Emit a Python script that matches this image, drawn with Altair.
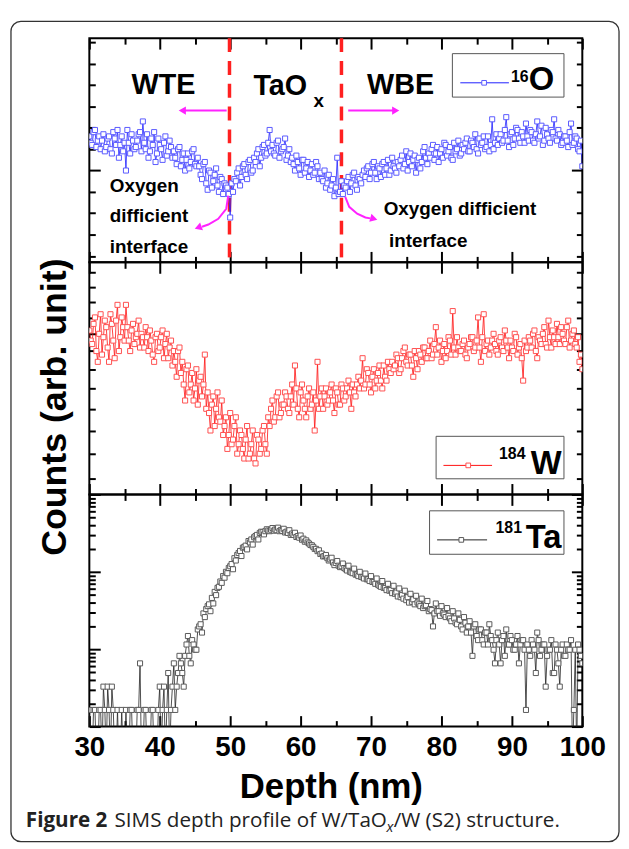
import altair as alt
import pandas as pd

# ---------------- data ----------------
# two interleaved passes of readings: at 30.0, 30.4, ... and at 30.2, 30.6, ...
STEP = 0.4
START_A, START_B = 30.0, 30.2

o16_a = [5.6, 5.2, 5.9, 5.4, 5.0, 5.7,
         5.1, 5.6, 4.8, 5.5, 5.9, 5.2, 4.9, 4.0, 5.3, 5.7, 5.0, 5.4, 5.8,
         6.3, 5.0, 4.6, 5.5, 5.8, 4.8, 5.2, 4.5, 5.6, 4.9, 5.1,
         4.9, 4.3, 5.1, 4.5, 4.0, 4.8, 4.4, 5.0, 4.2,
         4.2, 3.6, 4.4, 3.1, 3.9, 3.5, 4.1, 3.0, 3.6, 3.4,
         3.2, 1.8, 3.0,
         3.5, 4.1, 3.7, 4.3, 3.6, 4.5, 4.0,
         4.4, 5.0, 4.6, 5.2, 4.8, 5.9,
         5.2, 4.7, 5.4, 4.9, 5.1, 4.5, 5.0,
         4.6, 4.0, 4.4, 3.8, 4.5, 4.1, 3.7, 4.3, 3.9, 4.2,
         3.9, 3.5, 3.2, 3.8, 3.3, 2.8, 4.6, 3.0, 2.9,
         3.2, 3.7, 3.4, 3.9, 3.1, 3.6, 3.8,
         3.7, 4.2, 3.9, 4.4, 3.6, 4.1, 4.3, 3.8, 4.5, 4.0, 4.2, 3.9,
         4.2, 4.7, 4.3, 4.0, 4.8, 4.5, 3.9, 4.6, 4.4, 5.1, 4.3,
         4.6, 5.2, 4.8, 4.4, 5.0, 5.3, 4.7, 5.1, 4.5, 4.9, 5.4, 4.8,
         5.0, 5.5, 4.9, 5.3, 5.7, 4.8, 5.2, 5.6, 5.1, 4.9, 6.4, 5.3,
         5.2, 5.7, 5.4, 6.5, 5.1, 5.8, 5.5, 5.9, 5.3, 5.6, 6.2, 5.4,
         5.8, 5.3, 6.3, 5.6, 5.2, 6.0, 5.5, 5.9, 6.4, 5.4, 5.7, 5.3,
         5.6, 5.1, 6.2, 5.3, 5.5, 4.9, 4.2]
o16_b = [5.3, 5.8, 5.1, 5.6, 5.4, 4.9,
         5.5, 5.0, 5.8, 5.2, 4.6, 5.6, 5.3, 5.9, 4.8, 5.4, 5.1, 5.7, 4.9,
         5.3, 5.7, 4.9, 5.2, 4.4, 5.5, 5.0, 5.3, 4.7, 5.4, 4.6,
         4.6, 5.0, 4.2, 4.8, 4.5, 4.1, 4.9, 4.3, 4.6,
         3.8, 4.3, 3.4, 4.0, 3.2, 3.8, 3.3, 3.7, 2.9, 3.3,
         2.9, 3.4, 3.6,
         3.9, 3.3, 4.2, 3.8, 4.4, 3.9, 4.6,
         4.8, 4.2, 5.1, 4.7, 5.3, 4.9,
         4.8, 5.3, 4.6, 5.0, 5.5, 4.7, 4.4,
         4.3, 4.7, 4.1, 4.5, 3.9, 4.4, 4.0, 3.8, 4.4, 3.6,
         3.6, 4.0, 3.4, 3.1, 3.6, 3.2, 2.9, 3.5, 3.3,
         3.5, 3.0, 3.8, 3.3, 3.7, 3.4, 4.0,
         4.1, 3.6, 4.3, 3.9, 4.2, 3.7, 4.4, 4.1, 3.8, 4.6, 4.1, 4.4,
         4.5, 4.1, 4.9, 4.4, 4.2, 4.7, 4.5, 4.1, 4.9, 4.6, 4.8,
         5.0, 4.5, 5.1, 4.8, 4.6, 5.2, 4.9, 4.6, 5.3, 5.0, 4.7, 5.2,
         5.3, 4.9, 5.4, 5.1, 5.0, 5.5, 5.3, 5.0, 5.6, 5.2, 5.0, 5.7,
         5.5, 5.3, 5.9, 5.4, 5.7, 5.2, 6.0, 5.5, 5.8, 5.3, 5.6, 5.9,
         5.4, 5.7, 5.5, 6.1, 5.4, 5.7, 5.3, 5.8, 5.5, 5.9, 5.2, 5.6,
         5.4, 5.8, 5.2, 5.6, 5.0, 5.4]

w184_a = [10.1, 9.7, 10.5, 9.2, 10.6, 9.9,
          10.2, 9.2, 10.3, 9.3, 10.9, 9.9, 10.2, 10.9, 9.8, 10.1, 9.7, 10.0, 9.6,
          9.9, 10.2, 9.5, 9.8, 9.2, 10.0, 9.6, 10.1, 9.7, 9.3, 9.8,
          9.5, 8.8, 9.6, 9.2, 8.2,
          9.1, 8.6, 8.2, 9.0, 8.7, 8.3, 9.4,
          8.4, 7.5, 8.3, 8.0, 7.8, 8.2,
          7.6, 7.1, 7.9, 7.3, 7.8, 7.2,
          7.4, 6.9, 7.6, 7.0, 7.5, 6.8, 7.3, 7.1, 7.6, 7.0,
          7.6, 8.2, 7.8, 8.4, 7.9, 8.1,
          8.3, 7.9, 8.6, 9.1, 8.0, 8.4, 8.2, 7.8, 8.5, 8.1, 7.5, 9.2, 8.3,
          8.0, 8.5, 8.2, 8.6, 7.9, 8.4, 8.1, 8.5, 8.3, 8.7, 8.0, 8.4, 8.6,
          8.5, 9.3, 8.6, 8.9, 8.4, 9.0, 8.7, 9.1, 8.5, 8.8, 9.2, 8.9,
          9.0, 9.4, 8.9, 9.3, 9.6, 9.1, 9.4, 8.8, 9.3, 9.5, 9.2, 9.6,
          9.3, 9.8, 9.4, 10.2, 9.6, 9.2, 9.7, 9.5, 9.8, 10.7, 9.4, 9.6,
          9.5, 9.8, 9.3, 9.7, 9.9, 9.6, 10.5, 9.2, 10.6, 9.7, 9.4, 9.8,
          9.7, 9.4, 9.9, 9.5, 9.8, 9.3, 9.6, 10.0, 9.4, 9.7, 8.7, 9.5,
          9.9, 9.6, 10.1, 9.3, 9.8, 10.0, 9.7, 10.4, 9.6, 9.9, 10.3, 9.7,
          10.0, 9.7, 10.4, 9.8, 10.1, 9.6, 9.2, 9.0]
w184_b = [9.8, 10.3, 9.5, 10.0, 9.4, 10.4,
          9.6, 10.6, 9.8, 10.4, 9.5, 10.5, 9.8, 10.2, 9.5, 10.3, 9.9, 10.4, 10.0,
          9.6, 9.9, 10.1, 9.4, 9.9, 9.5, 9.9, 9.3, 10.0, 9.6, 9.1,
          9.2, 9.5, 8.9, 8.6, 9.0,
          8.4, 8.9, 8.5, 8.1, 8.8, 8.6, 8.0,
          7.9, 8.1, 7.6, 8.4, 7.7, 7.4,
          7.8, 7.4, 7.2, 7.6, 7.0, 7.5,
          7.1, 7.3, 6.9, 7.2, 6.9, 7.4, 7.0, 7.5, 7.2, 7.8,
          8.0, 7.7, 8.3, 7.8, 8.1, 8.4,
          8.0, 8.3, 8.1, 8.5, 7.8, 8.6, 8.0, 8.3, 8.0, 8.4, 8.2, 8.0, 8.5,
          8.3, 8.1, 8.4, 8.2, 8.5, 8.1, 8.6, 8.2, 8.5, 8.4, 8.6, 8.3, 8.8,
          8.7, 8.5, 9.0, 8.6, 8.8, 8.5, 8.9, 8.7, 9.1, 8.7, 9.0, 9.2,
          9.1, 9.3, 9.0, 9.5, 9.2, 9.4, 9.1, 9.5, 9.0, 9.4, 9.6, 9.3,
          9.5, 9.3, 9.7, 9.4, 9.8, 9.5, 9.3, 9.9, 9.4, 9.6, 9.9, 9.5,
          9.7, 9.4, 9.6, 9.9, 9.5, 9.8, 9.6, 9.9, 9.5, 9.8, 9.6, 10.0,
          9.5, 9.8, 9.6, 10.1, 9.6, 9.8, 9.5, 9.9, 9.6, 9.3, 9.8, 9.6,
          9.8, 10.0, 9.5, 9.9, 9.7, 10.2, 9.6, 9.9, 10.1, 9.7, 9.9, 10.2,
          9.8, 10.2, 9.6, 10.0, 9.7, 9.9, 9.4]

# 0 = no count (drawn below the log axis)
ta181_a = [1.64, 0, 1.64, 0, 1.64, 3.28, 0, 1.64, 3.28, 0,
           1.64, 0, 0, 1.64, 0, 1.64, 0, 1.64, 6.56, 0,
           1.64, 0, 1.64, 0, 0, 3.28, 1.64, 0, 4.92, 1.64,
           6.56, 3.28, 8.2, 4.92, 8.2, 14.8, 6.56, 11.5, 9.84, 19.7,
           16.4, 26, 36, 31, 39, 50, 64, 72, 84, 96,
           118, 108, 140, 175, 160, 210, 195, 240, 225, 290,
           262, 330, 305, 355, 335, 368, 352, 372, 348, 360,
           330, 345, 312, 320, 290, 295, 268, 255, 232, 220,
           198, 185, 170, 158, 165, 140, 152, 122, 138, 115,
           128, 108, 120, 98, 110, 92, 100, 85, 95, 80,
           88, 74, 82, 66, 76, 62, 70, 58, 66, 54,
           61, 50, 57, 47, 52, 44, 49, 38, 45, 36,
           42, 33, 19.7, 39, 31, 36, 28, 34, 25, 31,
           22, 29, 19.7, 26, 16.4, 23, 8.2, 21, 13.1, 18,
           11.5, 16.4, 21, 13.1, 6.56, 16.4, 6.56, 14.8, 18, 11.5,
           13.1, 9.84, 14.8, 11.5, 13.1, 1.64, 9.84, 13.1, 9.84, 16.4,
           8.2, 11.5, 3.28, 9.84, 13.1, 4.92, 9.84, 3.28, 11.5, 8.2,
           9.84, 13.1, 1.64, 0, 9.84, 6.56]
ta181_b = [0, 1.64, 0, 1.64, 0, 1.64, 3.28, 0, 1.64, 0,
           0, 1.64, 0, 0, 1.64, 0, 0, 1.64, 0, 1.64,
           0, 0, 1.64, 0, 1.64, 0, 3.28, 1.64, 0, 3.28,
           1.64, 4.92, 6.56, 3.28, 11.5,
           8.2, 13.1, 9.84, 18, 21, 29, 33, 38, 46, 55, 62, 75, 88, 100, 112,
           126, 150, 165, 186, 205, 218, 250, 262, 280, 300, 318, 325, 335, 342, 350, 340,
           345, 335, 338, 322, 318, 300, 300, 282, 276, 260, 245, 240, 222, 210, 198, 190,
           172, 160, 150, 145, 132, 130, 120, 118, 112, 104, 100, 96, 92, 88, 86, 82,
           80, 76, 74, 70, 68, 64, 62, 58, 57, 53, 52, 48, 47, 45, 43, 40,
           41, 38, 40, 36, 34, 37, 31, 32, 29, 31, 27, 29, 26, 27, 23, 25,
           21, 24, 18, 22, 19.7, 16.4, 19.7, 14.8, 18, 13.1, 16.4, 11.5, 14.8, 9.84, 13.1, 11.5,
           13.1, 8.2, 11.5, 14.8, 9.84, 11.5, 6.56, 13.1, 9.84, 11.5, 8.2, 11.5, 4.92, 13.1, 9.84, 11.5,
           8.2, 9.84, 4.92, 11.5, 6.56, 9.84, 8.2, 11.5, 9.84, 0, 9.84, 11.5, 8.2]

x_major = [30, 40, 50, 60, 70, 80, 90, 100]
x_minor = [35, 45, 55, 65, 75, 85, 95]
o_major = [4]
o_minor = [0, 1, 2, 3, 5, 6, 7, 8, 9, 10]
w_major = [10]
w_minor = [6.5, 7, 7.5, 8, 8.5, 9, 9.5, 10.5, 11, 11.5, 12]
ta_major = [1, 10, 100, 1000]
ta_minor = [2, 3, 4, 5, 6, 7, 8, 9, 20, 30, 40, 50, 60, 70, 80, 90,
            200, 300, 400, 500, 600, 700, 800, 900]
interfaces = [49.9, 65.8]

ann_text = ["WTE", "TaO", "x", "WBE", "Oxygen", "difficient", "interface",
            "Oxygen difficient", "interface"]
ann_depth = [35.99, 53.3, 61.83, 69.44, 32.9, 32.9, 32.9, 71.79, 72.54]
ann_val = [7.6, 7.55, 6.97, 7.6, 3.0, 1.58, 0.16, 1.93, 0.40]
ann_size = [29, 29, 19, 29, 19, 19, 19, 19, 19]

arrow_grp = ["a", "a", "b", "b", "c", "c", "c", "c", "c", "d", "d", "d", "d", "d"]
arrow_ord = [0, 1, 0, 1, 0, 1, 2, 3, 4, 0, 1, 2, 3, 4]
arrow_depth = [49.5, 43.5, 66.76, 73.2, 49.72, 49.44, 48.31, 46.9, 46.0,
               66.34, 66.9, 68.03, 69.2, 69.9]
arrow_val = [6.81, 6.81, 6.81, 6.81, 2.83, 2.21, 1.74, 1.47, 1.37,
             2.77, 2.30, 1.98, 1.80, 1.76]
head_depth = [43.2, 73.5, 45.45, 70.4]
head_val = [6.81, 6.81, 1.33, 1.74]
head_shape = ["triangle-left", "triangle-right", "triangle-left", "triangle-right"]
head_angle = [0, 0, 340, 15]

CAPTION = ["Figure 2", "SIMS depth profile of W/TaO", "x", "/W (S2) structure."]

# ---------------- styling ----------------
SANS = "Liberation Sans, Arial, sans-serif"
CAPF = "Open Sans, Noto Sans, sans-serif"
MAGENTA = "#ff22ff"
W_PLOT = 497
H1, H2, H3 = 226, 234, 234
TMAJ, TMIN = 11, 6


def series_frame(col, vals_a, vals_b, floor=None):
    da = [round(START_A + STEP * i, 2) for i in range(len(vals_a))]
    db = [round(START_B + STEP * i, 2) for i in range(len(vals_b))]
    df = pd.DataFrame({"depth": da + db, col: vals_a + vals_b})
    if floor is not None:
        df[col] = df[col].where(df[col] > 0, floor)
    return df.sort_values("depth").reset_index(drop=True)


df_o = series_frame("o", o16_a, o16_b)
df_w = series_frame("w", w184_a, w184_b)
df_t = series_frame("ta", ta181_a, ta181_b, floor=0.4)
one = pd.DataFrame({"k": [0]})

xscale = alt.Scale(domain=[30, 100])
o_scale = alt.Scale(domain=[-0.3, 10.2])
w_scale = alt.Scale(type="log", domain=[6.2, 12.37])
t_scale = alt.Scale(type="log", domain=[1, 1000])


def tick_axis(orient, values, size, labels=False):
    kw = dict(orient=orient, values=values, tickSize=size, offset=-size,
              domain=False, grid=False, title=None, ticks=True,
              tickColor="black", tickWidth=2, labels=labels)
    if labels:
        kw.update(labelFont=SANS, labelFontSize=28, labelFontWeight="bold",
                  labelColor="black", labelPadding=7, labelFlush=False,
                  labelOverlap=False)
    return alt.Axis(**kw)


def axis_layers(df, ycol, yscale, ymaj, ymin, xlabels):
    layers = []
    for xo, yo in (("bottom", "left"), ("top", "right")):
        for xv, yv, sz in ((x_major, ymaj, TMAJ), (x_minor, ymin, TMIN)):
            show = xlabels and xo == "bottom" and sz == TMAJ
            layers.append(alt.Chart(df).mark_point(opacity=0).encode(
                x=alt.X("depth:Q", scale=xscale, axis=tick_axis(xo, xv, sz, show)),
                y=alt.Y(f"{ycol}:Q", scale=yscale, axis=tick_axis(yo, yv, sz))))
    return layers


def series_layers(df, ycol, yscale, line_color, pt_color):
    enc = dict(x=alt.X("depth:Q", scale=xscale, axis=None),
               y=alt.Y(f"{ycol}:Q", scale=yscale, axis=None))
    line = alt.Chart(df).mark_line(color=line_color, strokeWidth=0.8,
                                   clip=True).encode(**enc)
    pts = alt.Chart(df).mark_point(shape="square", filled=True, fill="white",
                                   stroke=pt_color, strokeWidth=1, size=26,
                                   opacity=1, clip=True).encode(**enc)
    return [line, pts]


def legend_layers(box, line_x, line_y, mark_x, sup, sup_xy, main, main_xy,
                  color, pt_color):
    c = alt.Chart(one)
    return [
        c.mark_rect(fill="white", stroke="#555555", strokeWidth=1).encode(
            x=alt.value(box[0]), x2=alt.value(box[1]),
            y=alt.value(box[2]), y2=alt.value(box[3])),
        c.mark_rule(color=color, strokeWidth=1).encode(
            x=alt.value(line_x[0]), x2=alt.value(line_x[1]), y=alt.value(line_y)),
        c.mark_point(shape="square", filled=True, fill="white", stroke=pt_color,
                     strokeWidth=1, size=22, opacity=1).encode(
            x=alt.value(mark_x), y=alt.value(line_y)),
        c.mark_text(text=sup, font=SANS, fontWeight="bold", fontSize=16,
                    align="left", baseline="alphabetic", color="black").encode(
            x=alt.value(sup_xy[0]), y=alt.value(sup_xy[1])),
        c.mark_text(text=main, font=SANS, fontWeight="bold", fontSize=33,
                    align="left", baseline="alphabetic", color="black").encode(
            x=alt.value(main_xy[0]), y=alt.value(main_xy[1])),
    ]


# ---------------- panel 1 : 16O ----------------
df_ann = pd.DataFrame({"depth": ann_depth, "val": ann_val, "txt": ann_text,
                       "fs": ann_size})
df_arrow = pd.DataFrame({"depth": arrow_depth, "val": arrow_val,
                         "g": arrow_grp, "o": arrow_ord})
df_head = pd.DataFrame({"depth": head_depth, "val": head_val,
                        "shape": head_shape, "ang": head_angle})
df_dash = pd.DataFrame({"depth": interfaces})

dash = alt.Chart(df_dash).mark_rule(color="#ff2020", strokeWidth=3.5,
                                    strokeDash=[14, 9]).encode(
    x=alt.X("depth:Q", scale=xscale, axis=None))
ann = alt.Chart(df_ann).mark_text(font=SANS, fontWeight="bold", align="left",
                                  baseline="alphabetic", color="black").encode(
    x=alt.X("depth:Q", scale=xscale, axis=None),
    y=alt.Y("val:Q", scale=o_scale, axis=None),
    text="txt:N", size=alt.Size("fs:Q", scale=None))
arrows = alt.Chart(df_arrow).mark_line(color=MAGENTA, strokeWidth=2).encode(
    x=alt.X("depth:Q", scale=xscale, axis=None),
    y=alt.Y("val:Q", scale=o_scale, axis=None),
    detail="g:N", order="o:Q")
heads = alt.Chart(df_head).mark_point(filled=True, color=MAGENTA, size=70,
                                      opacity=1).encode(
    x=alt.X("depth:Q", scale=xscale, axis=None),
    y=alt.Y("val:Q", scale=o_scale, axis=None),
    shape=alt.Shape("shape:N", scale=None),
    angle=alt.Angle("ang:Q", scale=None))

p1 = alt.layer(
    *axis_layers(df_o, "o", o_scale, o_major, o_minor, False),
    dash,
    *series_layers(df_o, "o", o_scale, "#1f1fff", "#5a5aff"),
    ann, arrows, heads,
    *legend_layers((366, 478.5, 15.6, 59.4), (374, 423), 45, 398,
                   "16", (425, 44), "O", (443, 52), "#1f1fff", "#5a5aff"),
).resolve_axis(x="independent", y="independent").properties(width=W_PLOT, height=H1)

# ---------------- panel 2 : 184W ----------------
ytitle = alt.Chart(one).mark_text(text="Counts (arb. unit)", font=SANS,
                                  fontWeight="bold", fontSize=36, angle=270,
                                  align="center", baseline="middle",
                                  color="black").encode(
    x=alt.value(-35), y=alt.value(146))

p2 = alt.layer(
    *axis_layers(df_w, "w", w_scale, w_major, w_minor, False),
    *series_layers(df_w, "w", w_scale, "#ff1010", "#ff5050"),
    *legend_layers((349.6, 478.5, 175.4, 218.2), (357, 406), 204.7, 382,
                   "184", (413, 198), "W", (445, 213), "#ff1010", "#ff5050"),
    ytitle,
).resolve_axis(x="independent", y="independent").properties(width=W_PLOT, height=H2)

# ---------------- panel 3 : 181Ta ----------------
c1 = alt.Chart(one)
xtitle = c1.mark_text(text="Depth (nm)", font=SANS, fontWeight="bold",
                      fontSize=35, align="center", baseline="alphabetic",
                      color="black").encode(x=alt.value(244), y=alt.value(306))
cap1 = c1.mark_text(text=CAPTION[0], font=CAPF, fontWeight="bold", fontSize=20.8,
                    align="left", baseline="alphabetic", color="#222222").encode(
    x=alt.value(-64), y=alt.value(335))
cap2 = c1.mark_text(text=CAPTION[1], font=CAPF, fontSize=20.8, align="left",
                    baseline="alphabetic", color="#222222").encode(
    x=alt.value(25.4), y=alt.value(335))
cap3 = c1.mark_text(text=CAPTION[2], font=CAPF, fontSize=14.5, fontStyle="italic",
                    align="left", baseline="alphabetic", color="#222222").encode(
    x=alt.value(299.5), y=alt.value(340))
cap4 = c1.mark_text(text=CAPTION[3], font=CAPF, fontSize=20.8, align="left",
                    baseline="alphabetic", color="#222222").encode(
    x=alt.value(306.8), y=alt.value(335))
frame = c1.mark_rect(fill="white", fillOpacity=0, stroke="#333333",
                     strokeWidth=1.3, cornerRadius=10).encode(
    x=alt.value(-79), x2=alt.value(534), y=alt.value(-477), y2=alt.value(350))

p3 = alt.layer(
    *axis_layers(df_t, "ta", t_scale, ta_major, ta_minor, True),
    *series_layers(df_t, "ta", t_scale, "#222222", "#5a5a5a"),
    *legend_layers((343, 478.5, 16.5, 60.3), (350.6, 401), 45.8, 375,
                   "181", (409.5, 39), "Ta", (440, 54), "#222222", "#5a5a5a"),
    xtitle, cap1, cap2, cap3, cap4, frame,
).resolve_axis(x="independent", y="independent").properties(width=W_PLOT, height=H3)

chart = alt.vconcat(p1, p2, p3, spacing=0, bounds="flush").properties(
    padding={"left": 1, "top": 8, "right": 0, "bottom": 0}
).configure_view(stroke="black", strokeWidth=2)

chart.save("out.html", embed_options={"renderer": "svg", "actions": False})
